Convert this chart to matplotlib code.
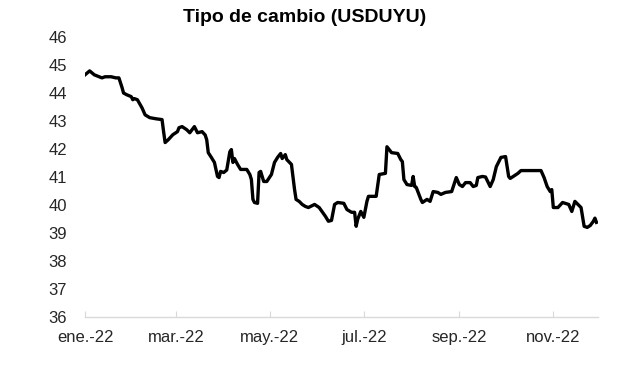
import matplotlib
matplotlib.use("Agg")
import matplotlib.pyplot as plt
import matplotlib.dates as mdates
import pandas as pd

plt.rcParams['font.family'] = ['Liberation Sans', 'DejaVu Sans']

dates = [
    "2022-01-01", "2022-01-04", "2022-01-07", "2022-01-12", "2022-01-14", "2022-01-18",
    "2022-01-21", "2022-01-23", "2022-01-25", "2022-01-26", "2022-01-28", "2022-01-31",
    "2022-02-01", "2022-02-02", "2022-02-04", "2022-02-07", "2022-02-09", "2022-02-12",
    "2022-02-16", "2022-02-20", "2022-02-21", "2022-02-22", "2022-02-24", "2022-02-27",
    "2022-03-02", "2022-03-03", "2022-03-05", "2022-03-08", "2022-03-10", "2022-03-13",
    "2022-03-15", "2022-03-18", "2022-03-20", "2022-03-21", "2022-03-22", "2022-03-24",
    "2022-03-26", "2022-03-28", "2022-03-29", "2022-03-30", "2022-04-01", "2022-04-03",
    "2022-04-05", "2022-04-06", "2022-04-07", "2022-04-08", "2022-04-10", "2022-04-12",
    "2022-04-16", "2022-04-18", "2022-04-19", "2022-04-20", "2022-04-21", "2022-04-23",
    "2022-04-24", "2022-04-25", "2022-04-27", "2022-04-29", "2022-05-02", "2022-05-04",
    "2022-05-06", "2022-05-08", "2022-05-09", "2022-05-11", "2022-05-12", "2022-05-15",
    "2022-05-17", "2022-05-18", "2022-05-20", "2022-05-22", "2022-05-24", "2022-05-26",
    "2022-05-30", "2022-06-02", "2022-06-06", "2022-06-08", "2022-06-10", "2022-06-12",
    "2022-06-14", "2022-06-18", "2022-06-20", "2022-06-23", "2022-06-25", "2022-06-26",
    "2022-06-27", "2022-06-29", "2022-07-01", "2022-07-03", "2022-07-04", "2022-07-09",
    "2022-07-11", "2022-07-15", "2022-07-16", "2022-07-19", "2022-07-23", "2022-07-25",
    "2022-07-26", "2022-07-27", "2022-07-29", "2022-08-01", "2022-08-02", "2022-08-03",
    "2022-08-04", "2022-08-07", "2022-08-08", "2022-08-11", "2022-08-13", "2022-08-15",
    "2022-08-18", "2022-08-20", "2022-08-23", "2022-08-27", "2022-08-30", "2022-09-01",
    "2022-09-03", "2022-09-05", "2022-09-08", "2022-09-10", "2022-09-12", "2022-09-13",
    "2022-09-16", "2022-09-18", "2022-09-21", "2022-09-23", "2022-09-25", "2022-09-28",
    "2022-10-01", "2022-10-03", "2022-10-04", "2022-10-06", "2022-10-09", "2022-10-11",
    "2022-10-24", "2022-10-26", "2022-10-28", "2022-10-30", "2022-10-31", "2022-11-01",
    "2022-11-04", "2022-11-07", "2022-11-11", "2022-11-13", "2022-11-15", "2022-11-19",
    "2022-11-21", "2022-11-23", "2022-11-25", "2022-11-27", "2022-11-28", "2022-11-29",
]
usduyu = [
    44.65, 44.79, 44.65, 44.54, 44.58, 44.58,
    44.54, 44.54, 44.20, 44.00, 43.94, 43.87,
    43.76, 43.80, 43.76, 43.47, 43.22, 43.12,
    43.08, 43.05, 42.62, 42.23, 42.33, 42.51,
    42.62, 42.76, 42.80, 42.69, 42.58, 42.80,
    42.58, 42.62, 42.50, 42.33, 41.87, 41.70,
    41.52, 41.02, 40.98, 41.20, 41.16, 41.25,
    41.90, 41.98, 41.52, 41.66, 41.45, 41.27,
    41.27, 41.09, 40.91, 40.20, 40.09, 40.06,
    41.16, 41.20, 40.84, 40.84, 41.09, 41.52,
    41.70, 41.84, 41.66, 41.80, 41.62, 41.45,
    40.56, 40.20, 40.13, 40.02, 39.95, 39.91,
    40.02, 39.91, 39.60, 39.42, 39.45, 40.02,
    40.09, 40.06, 39.84, 39.74, 39.74, 39.24,
    39.49, 39.77, 39.56, 40.13, 40.31, 40.31,
    41.09, 41.13, 42.08, 41.87, 41.84, 41.62,
    41.55, 40.91, 40.73, 40.70, 41.02, 40.66,
    40.63, 40.20, 40.09, 40.20, 40.13, 40.48,
    40.45, 40.38, 40.45, 40.48, 40.98, 40.73,
    40.66, 40.80, 40.80, 40.66, 40.70, 40.98,
    41.02, 41.00, 40.66, 40.91, 41.37, 41.70,
    41.73, 41.02, 40.95, 41.02, 41.13, 41.23,
    41.23, 40.98, 40.66, 40.48, 40.55, 39.91,
    39.91, 40.09, 40.02, 39.77, 40.13, 39.91,
    39.24, 39.20, 39.27, 39.42, 39.53, 39.38,
]
tick_dates = ["2022-01-01", "2022-03-01", "2022-05-01", "2022-07-01", "2022-09-01", "2022-11-01"]
tick_labels = ["ene.-22", "mar.-22", "may.-22", "jul.-22", "sep.-22", "nov.-22"]
y_ticks = [36, 37, 38, 39, 40, 41, 42, 43, 44, 45, 46]

x = pd.to_datetime(dates)
fig = plt.figure(figsize=(6.17, 3.70), dpi=100)
ax = fig.add_axes([0.1378, 0.1432, 0.8314, 0.7568])
ax.plot(x, usduyu, color="black", linewidth=2.4, solid_joinstyle="round")

ax.set_ylim(36, 46)
ax.set_yticks(y_ticks)
ax.set_xlim(pd.Timestamp("2022-01-01"), pd.Timestamp("2022-11-30"))
ax.set_xticks(pd.to_datetime(tick_dates))
ax.set_xticklabels(tick_labels)

for s in ["top", "right", "left"]:
    ax.spines[s].set_visible(False)
ax.spines["bottom"].set_color("#d9d9d9")
ax.spines["bottom"].set_linewidth(1.0)
ax.tick_params(axis="y", length=0, pad=13, labelsize=12, labelcolor="#262626")
ax.tick_params(axis="x", direction="in", length=4, color="#d9d9d9", pad=9, labelsize=12, labelcolor="#262626")

fig.text(0.494, 0.954, "Tipo de cambio (USDUYU)", ha="center", va="center",
         fontsize=14, fontweight="bold", color="black")

fig.savefig("out.png", dpi=100)
